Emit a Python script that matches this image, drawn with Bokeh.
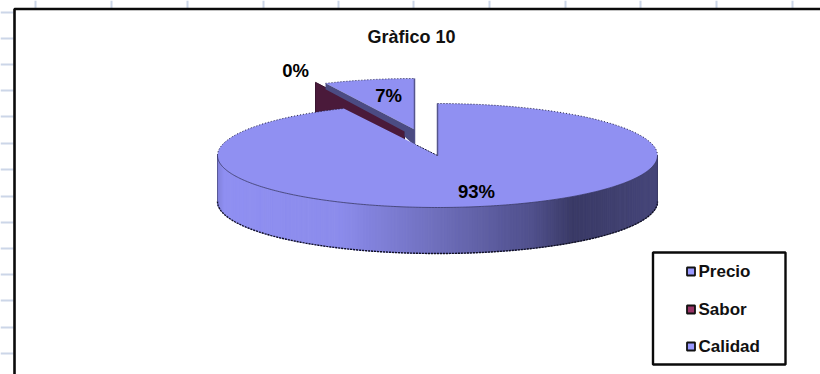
import numpy as np
from bokeh.core.properties import value
from bokeh.embed import file_html
from bokeh.models import Range1d
from bokeh.plotting import figure
from bokeh.resources import INLINE

# Chart content
title_text = "Gràfico 10"
categories = ["Precio", "Sabor", "Calidad"]
shares = [93, 0, 7]
share_labels = ["93%", "0%", "7%"]
swatch_colors = ["#9999ff", "#993366", "#9999ff"]

# Pie geometry, in page pixels
CX, CY, RX, RY, DEPTH = 437, 155, 220, 52, 46
SABOR_APEX = (404, 128)
CALIDAD_APEX = (414, 129)
PART_RX, PART_RY = 209, 51

FACE = "#9090f2"
FONT = value("Liberation Sans")

p = figure(width=820, height=374, output_backend="svg", toolbar_location=None,
           x_range=Range1d(0, 820), y_range=Range1d(374, 0),
           min_border=0, outline_line_color=None, background_fill_color="white",
           border_fill_color="white")
p.axis.visible = False
p.grid.visible = False


def rim(theta_deg, cx=CX, cy=CY, rx=RX, ry=RY):
    t = np.radians(theta_deg)
    return cx + rx * np.sin(t), cy - ry * np.cos(t)


# Worksheet cell lines showing around the chart frame
col_lines = [35, 111, 187, 263, 338, 413, 489, 565, 640, 716, 792]
row_lines = [12, 38, 64, 90, 116, 143, 169, 196, 222, 248, 274, 300, 327, 353]
p.segment(col_lines, [0] * len(col_lines), col_lines, [8] * len(col_lines),
          line_color="#ccd6e8", line_width=2)
p.segment([0] * len(row_lines), row_lines, [13] * len(row_lines), row_lines,
          line_color="#ccd6e8", line_width=2)

# Chart frame: only the top and left edges fall inside the page
p.line([14, 14, 820], [374, 8.5, 8.5], line_color="#0a0a0a", line_width=2.6)

# Angle at which the big slice ends, clockwise from twelve o'clock
boundary = 360 * shares[0] / sum(shares) - 360

# Radial wall of the small Sabor slice
sx, sy = rim(boundary, *SABOR_APEX, PART_RX, PART_RY)
p.patch([sx, SABOR_APEX[0], SABOR_APEX[0], sx],
        [sy, SABOR_APEX[1], SABOR_APEX[1] + DEPTH, sy + DEPTH],
        fill_color="#4a1a3a", line_color="#3a1530", line_width=1)

# Calidad slice: top face, then its radial wall
end = boundary + 360 * shares[2] / sum(shares)
angles = np.linspace(boundary, end, 30)
ax, ay = rim(angles, *CALIDAD_APEX, PART_RX, PART_RY)
p.patch([CALIDAD_APEX[0], *ax], [CALIDAD_APEX[1], *ay], fill_color=FACE, line_color=None)
p.line(ax, ay, line_color="#333355", line_width=1, line_dash="1 2")
p.line([CALIDAD_APEX[0]] * 2, [ay[-1], CALIDAD_APEX[1] + 15], line_color="#55558c", line_width=1.5)
p.patch([ax[0], CALIDAD_APEX[0], CALIDAD_APEX[0], SABOR_APEX[0], SABOR_APEX[0], ax[0]],
        [ay[0], CALIDAD_APEX[1], CALIDAD_APEX[1] + 16, SABOR_APEX[1] + 8, SABOR_APEX[1] + 3, ay[0] + 6],
        fill_color="#4b4b82", line_color=None)

# Outer wall of the big slice, shaded from left to right
shade_x = [217, 224, 340, 433, 533, 573, 657]
shade_rgb = np.array([[128, 128, 216], [144, 144, 242], [140, 140, 236], [112, 112, 190],
                      [80, 80, 140], [58, 58, 102], [70, 70, 122]], dtype=float)
edges = np.linspace(270, 90, 221)
wx, wy = rim(edges)
xs, ys, colors = [], [], []
for i in range(len(edges) - 1):
    xs.append([wx[i], wx[i + 1], wx[i + 1], wx[i]])
    ys.append([wy[i], wy[i + 1], wy[i + 1] + DEPTH, wy[i] + DEPTH])
    mid = (wx[i] + wx[i + 1]) / 2
    r, g, b = (np.interp(mid, shade_x, shade_rgb[:, c]) for c in range(3))
    colors.append(f"#{int(r):02x}{int(g):02x}{int(b):02x}")
p.patches(xs, ys, fill_color=colors, line_color=colors, line_width=1)

# Top face of the big slice
face_angles = np.linspace(0, 360 + boundary, 240)
fx, fy = rim(face_angles)
p.patch([CX, *fx], [CY, *fy], fill_color=FACE, line_color=None)

# Outlines
p.line(wx, wy + DEPTH, line_color="#111122", line_width=1.4, line_dash="2 1")
p.line(wx, wy, line_color="#3a3a66", line_width=0.8)
p.line([wx[0], wx[0]], [wy[0], wy[0] + DEPTH], line_color="#333355", line_width=1, line_dash="1 1")
p.line([wx[-1], wx[-1]], [wy[-1], wy[-1] + DEPTH], line_color="#333355", line_width=1, line_dash="1 1")
back = face_angles[face_angles > 270]
bx, by = rim(back)
p.line(bx, by, line_color="#222244", line_width=1, line_dash="1 2")
tx, ty = rim(face_angles[face_angles < 90])
p.line(tx, ty, line_color="#222244", line_width=1, line_dash="1 2")
p.line([CX, CX], [rim(0)[1], CY], line_color="#55558c", line_width=1.5)
p.line([CX, CX - 22], [CY, CY - 11], line_color="#222244", line_width=1, line_dash="2 1")

# Title and percentage labels
p.text([411], [36], text=[title_text], text_font=FONT, text_font_style="bold",
       text_font_size="18px", text_align="center", text_baseline="middle", text_color="#111111")
label_x = [476, 295, 388]
label_y = [191, 70, 95]
p.text(label_x, label_y, text=share_labels, text_font=FONT, text_font_style="bold",
       text_font_size="18.5px", text_align="center", text_baseline="middle", text_color="#000000")

# Legend
p.quad(left=[652.5], right=[785], top=[252], bottom=[364], fill_color="white",
       line_color="#0a0a0a", line_width=2.4)
legend_y = [271, 309, 346]
p.quad(left=[686.5] * 3, right=[694.5] * 3, top=[y - 4 for y in legend_y],
       bottom=[y + 4 for y in legend_y], fill_color=swatch_colors,
       line_color="#111111", line_width=1.8)
p.text([698] * 3, legend_y, text=categories, text_font=FONT, text_font_style="bold",
       text_font_size="17px", text_align="left", text_baseline="middle", text_color="#111111")

open("out.html", "w").write(file_html(p, INLINE))
